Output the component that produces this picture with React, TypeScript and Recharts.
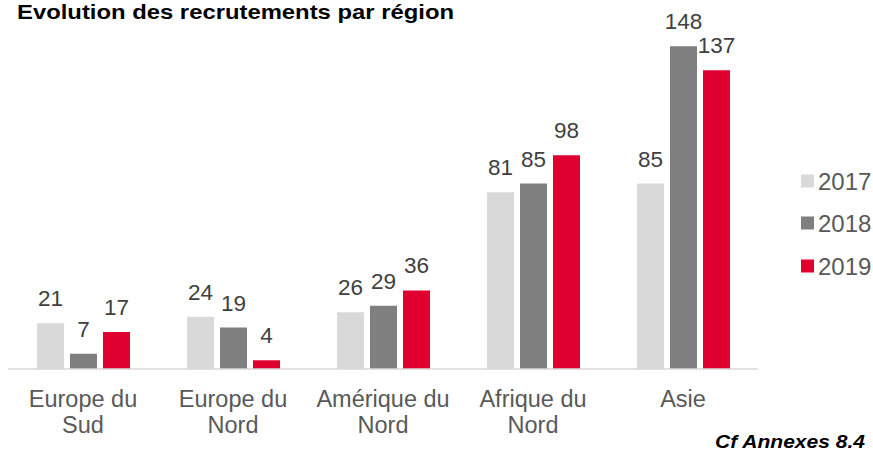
import React from "react";
import { BarChart, Bar, XAxis, YAxis, LabelList } from "recharts";

const categories = ["Europe du Sud", "Europe du Nord", "Amérique du Nord", "Afrique du Nord", "Asie"];
const categoryLines = [["Europe du", "Sud"], ["Europe du", "Nord"], ["Amérique du", "Nord"], ["Afrique du", "Nord"], ["Asie"]];
const values2017 = [21, 24, 26, 81, 85];
const values2018 = [7, 19, 29, 85, 148];
const values2019 = [17, 4, 36, 98, 137];
const seriesNames = ["2017", "2018", "2019"];
const seriesColors = ["#d9d9d9", "#7f7f7f", "#e0002f"];
const titleText = "Evolution des recrutements par région";
const noteText = "Cf Annexes 8.4";

const data = categories.map((c, i) => ({
  name: c,
  "2017": values2017[i],
  "2018": values2018[i],
  "2019": values2019[i],
}));

const FONT = "'Liberation Sans', Arial, sans-serif";

const Tick = (props: any) => {
  const { x, y, payload, index } = props;
  const lines = categoryLines[index] || [payload.value];
  return (
    <text x={x} y={y} textAnchor="middle" fill="#595959" fontSize={23.5} fontFamily={FONT}>
      {lines.map((l: string, i: number) => (
        <tspan key={i} x={x} dy={i === 0 ? 30 : 26}>
          {l}
        </tspan>
      ))}
    </text>
  );
};

export default function App() {
  const legendBaselines = [190, 232, 275];
  return (
    <div style={{ position: "absolute", left: 0, top: 0, width: 873, height: 455, background: "#fff" }}>
      <BarChart
        width={873}
        height={455}
        data={data}
        margin={{ top: 20, right: 115, left: 8, bottom: 26 }}
        barSize={27}
        barGap={6}
      >
        <XAxis
          dataKey="name"
          axisLine={{ stroke: "#d9d9d9", strokeWidth: 1.5 }}
          tickLine={false}
          tick={<Tick />}
          height={60}
          interval={0}
        />
        <YAxis hide domain={[0, 160]} />
        {seriesNames.map((s, i) => (
          <Bar key={s} dataKey={s} fill={seriesColors[i]} isAnimationActive={false}>
            <LabelList
              dataKey={s}
              position="top"
              offset={17}
              fill="#404040"
              fontSize={22.5}
              fontFamily={FONT}
            />
          </Bar>
        ))}
      </BarChart>
      <svg
        width={873}
        height={455}
        style={{ position: "absolute", left: 0, top: 0, pointerEvents: "none" }}
      >
        <text
          x={17}
          y={19}
          fontFamily={FONT}
          fontWeight="bold"
          fontSize={21}
          fill="#000"
          textLength={437}
          lengthAdjust="spacingAndGlyphs"
        >
          {titleText}
        </text>
        <text
          x={715}
          y={448}
          fontFamily={FONT}
          fontWeight="bold"
          fontStyle="italic"
          fontSize={17.5}
          fill="#000"
          textLength={150}
          lengthAdjust="spacingAndGlyphs"
        >
          {noteText}
        </text>
        {seriesNames.map((s, i) => (
          <g key={s}>
            <rect x={801} y={legendBaselines[i] - 15.5} width={13} height={13} fill={seriesColors[i]} />
            <text x={818} y={legendBaselines[i]} fontFamily={FONT} fontSize={24} fill="#595959">
              {s}
            </text>
          </g>
        ))}
      </svg>
    </div>
  );
}
